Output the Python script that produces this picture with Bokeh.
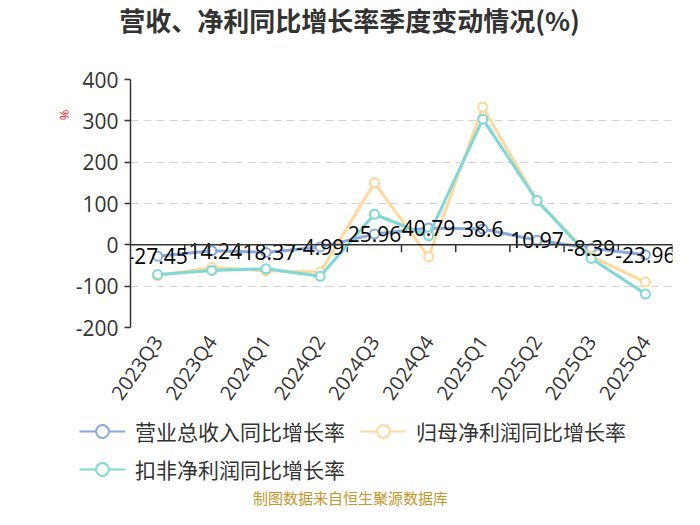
import math

from bokeh.plotting import figure
from bokeh.layouts import column, row
from bokeh.models import (ColumnDataSource, FactorRange, Range1d, FixedTicker,
                          Span, Legend, LegendItem, Title, Label)
from bokeh.transform import dodge
from bokeh.core.properties import value
from bokeh.embed import file_html
from bokeh.resources import INLINE

# chart data
quarters = ["2023Q3", "2023Q4", "2024Q1", "2024Q2", "2024Q3",
            "2024Q4", "2025Q1", "2025Q2", "2025Q3", "2025Q4"]
revenue_growth = [-27.45, -14.24, -18.37, -4.99, 25.96, 40.79, 38.6, 10.97, -8.39, -23.96]
parent_profit_growth = [-75, -55, -63, -66, 150, -29, 333, 107, -28, -90]
deducted_profit_growth = [-72, -62, -58, -76, 74, 22, 304, 107, -33, -119]
y_ticks = [-200, -100, 0, 100, 200, 300, 400]
series_names = ["营业总收入同比增长率", "归母净利润同比增长率", "扣非净利润同比增长率"]

TITLE = "营收、净利同比增长率季度变动情况(%)"
FOOTER = "制图数据来自恒生聚源数据库"
CJK = "Noto Sans CJK SC"
NUM = "Open Sans"
colors = ["#8aa8dc", "#ffd99b", "#7ed8d8"]

src = ColumnDataSource(data=dict(
    q=quarters,
    rev=revenue_growth,
    par=parent_profit_growth,
    ded=deducted_profit_growth,
    rev_label=[str(v) for v in revenue_growth],
))


def strip(height):
    """plain figure used as a band for title / legend / note"""
    f = figure(width=684, height=height, x_range=Range1d(0, 1), y_range=Range1d(0, 1),
               output_backend="svg", toolbar_location=None, tools="", min_border=0)
    f.axis.visible = False
    f.grid.visible = False
    f.outline_line_color = None
    return f


# title band
head = strip(40)
head.add_layout(Label(x=349, y=21, x_units="screen", y_units="screen", text=TITLE,
                      text_align="center", text_baseline="middle", text_font=CJK,
                      text_font_size="26px", text_font_style="bold",
                      text_color="#333333"))

p = figure(
    width=684,
    height=375,
    x_range=FactorRange(*quarters, range_padding=0),
    y_range=Range1d(-200, 400),
    output_backend="svg",
    toolbar_location=None,
    tools="",
    min_border_left=130,
    min_border_right=12,
    min_border_top=39,
    min_border_bottom=88,
)
p.outline_line_color = None
p.xgrid.visible = False
p.ygrid.grid_line_color = "#d4d4d4"
p.ygrid.grid_line_dash = "8 5"
p.ygrid.grid_line_width = 1.2

# y axis
p.yaxis.ticker = FixedTicker(ticks=y_ticks)
p.yaxis.major_label_overrides = {t: str(t) for t in y_ticks}
p.yaxis.axis_line_color = "#333333"
p.yaxis.axis_line_width = 1.5
p.yaxis.major_tick_line_color = "#333333"
p.yaxis.major_tick_line_width = 1.5
p.yaxis.major_tick_out = 6
p.yaxis.major_tick_in = 0
p.yaxis.minor_tick_line_color = None
p.yaxis.major_label_standoff = 6
p.yaxis.major_label_text_font = NUM
p.yaxis.major_label_text_font_size = "21px"
p.yaxis.major_label_text_color = "#333333"

# small red unit mark left of the y axis
p.add_layout(Title(text="%", align="right", offset=30, standoff=0,
                   text_font=NUM, text_font_size="13px", text_font_style="normal",
                   text_color="#ff2020"), "left")

# x axis: labels only, the axis line sits at zero
p.xaxis.axis_line_color = None
p.xaxis.major_tick_line_color = None
p.xaxis.major_label_orientation = math.radians(55)
p.xaxis.major_label_standoff = 4
p.xaxis.major_label_text_font = NUM
p.xaxis.major_label_text_font_size = "20px"
p.xaxis.major_label_text_color = "#333333"

p.add_layout(Span(location=0, dimension="width", line_color="#333333", line_width=1.5))
p.segment(x0=dodge("q", 0.5, range=p.x_range), y0=0,
          x1=dodge("q", 0.5, range=p.x_range), y1=-18,
          source=src, line_color="#333333", line_width=1.5)

for col, color in zip(["rev", "par", "ded"], colors):
    p.line(x="q", y=col, source=src, line_color=color, line_width=3)
    p.scatter(x="q", y=col, source=src, size=9, fill_color="white",
              line_color=color, line_width=2)

# data labels of the revenue series
p.text(x="q", y="rev", text="rev_label", source=src, text_align="center",
       text_baseline="middle", text_font=value(NUM), text_font_size="21px",
       text_color="#000000")

# legend and source note band; its series sit outside its visible y range
foot = figure(width=684, height=94, x_range=p.x_range, y_range=Range1d(1000, 1001),
              output_backend="svg", toolbar_location=None, tools="", min_border=0)
foot.axis.visible = False
foot.grid.visible = False
foot.outline_line_color = None

items = []
for col, color, name in zip(["rev", "par", "ded"], colors, series_names):
    ln = foot.line(x="q", y=col, source=src, line_color=color, line_width=2)
    sc = foot.scatter(x="q", y=col, source=src, fill_color="white",
                      line_color=color, line_width=2)
    items.append(LegendItem(label=name, renderers=[ln, sc]))


def make_legend(legend_items, loc):
    return Legend(
        items=legend_items,
        location=loc,
        orientation="horizontal",
        glyph_width=46,
        glyph_height=32,
        label_standoff=10,
        label_width=223,
        spacing=2,
        padding=0,
        margin=0,
        border_line_color=None,
        background_fill_alpha=0,
        label_text_font=CJK,
        label_text_font_size="21px",
        label_text_color="#333333",
    )


foot.add_layout(make_legend(items[:2], (79, 62)))
foot.add_layout(make_legend(items[2:], (79, 24)))
foot.add_layout(Label(x=350, y=12, x_units="screen", y_units="screen", text=FOOTER,
                      text_align="center", text_baseline="middle", text_font=CJK,
                      text_font_size="15px", text_color="#c8962c"))

layout = column(row(head), p, row(foot))
open("out.html", "w").write(file_html(layout, INLINE))
